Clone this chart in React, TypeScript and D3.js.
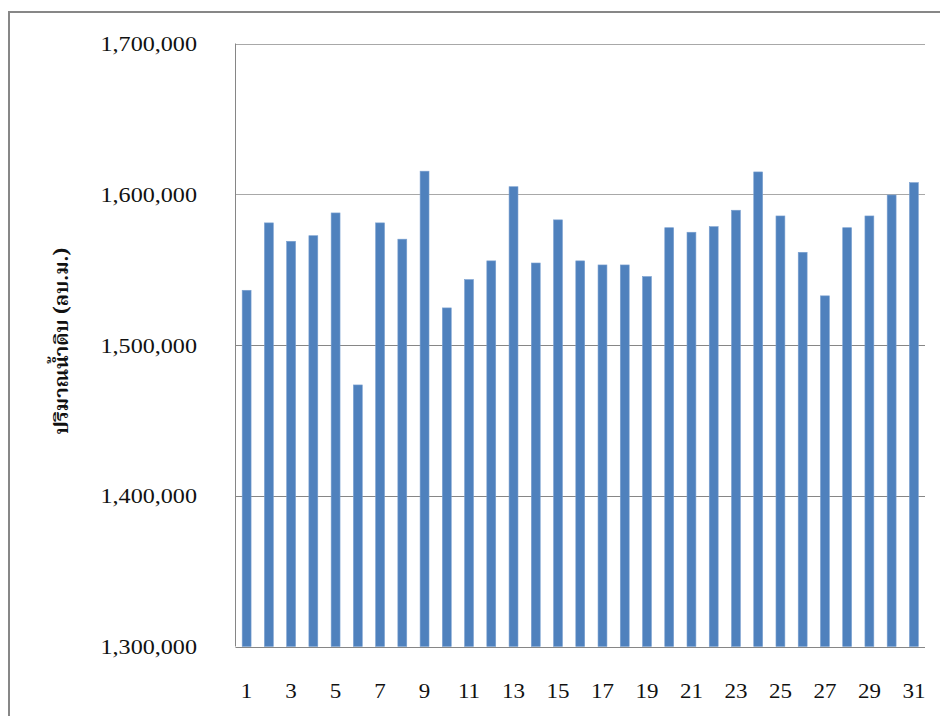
import React from "react";
import * as d3 from "d3";

// Daily raw-water volume (m³) for days 1–31
const days: number[] = d3.range(1, 32);
const volumes: number[] = [
  1536300, 1581000, 1568800, 1572500, 1587600, 1473500, 1581000, 1570200,
  1615300, 1524600, 1543400, 1555800, 1605000, 1554400, 1583000, 1555800,
  1553100, 1553100, 1545400, 1577800, 1574800, 1578500, 1589400, 1614800,
  1585600, 1561500, 1532600, 1577800, 1585600, 1599500, 1607700,
];
const yTicks: number[] = [1300000, 1400000, 1500000, 1600000, 1700000];
const xTickDays: number[] = days.filter((d) => d % 2 === 1);
const yTitle = "ปริมาณน้ำดิบ (ลบ.ม.)";

const W = 940;
const H = 716;
const plot = { left: 235.5, right: 925, top: 43.5, bottom: 646.5 };

export default function App() {
  const x = d3
    .scaleBand<number>()
    .domain(days)
    .range([plot.left, plot.right])
    .paddingInner(0.6)
    .paddingOuter(0.3);
  const y = d3
    .scaleLinear()
    .domain([1300000, 1700000])
    .range([plot.bottom, plot.top]);
  const fmt = d3.format(",");
  const stretch = 1.15;

  return (
    <svg
      width={W}
      height={H}
      style={{ position: "absolute", left: 0, top: 0, background: "#fff" }}
    >
      {/* outer chart frame */}
      <rect
        x={9}
        y={12}
        width={W + 20}
        height={H + 20}
        fill="none"
        stroke="#878787"
        strokeWidth={2}
      />

      {/* horizontal gridlines */}
      {yTicks.map((t) => (
        <line
          key={t}
          x1={plot.left}
          x2={plot.right}
          y1={Math.round(y(t)) + 0.5}
          y2={Math.round(y(t)) + 0.5}
          stroke={t === 1700000 || t === 1600000 ? "#a8a8a8" : "#868686"}
          strokeWidth={1.2}
        />
      ))}

      {/* left axis line */}
      <line
        x1={plot.left}
        x2={plot.left}
        y1={plot.top}
        y2={plot.bottom}
        stroke="#868686"
        strokeWidth={1}
      />

      {/* bars */}
      {volumes.map((v, i) => (
        <rect
          key={i}
          x={x(days[i])}
          y={y(v)}
          width={x.bandwidth()}
          height={plot.bottom - y(v)}
          fill="#4f81bd"
          stroke="#7aa0d0"
          strokeWidth={0.6}
        />
      ))}

      {/* y tick labels */}
      {yTicks.map((t) => (
        <text
          key={t}
          transform={`translate(197, ${y(t) + 7.5}) scale(${stretch},1)`}
          textAnchor="end"
          fontFamily="'Liberation Serif', 'Times New Roman', serif"
          fontSize={21}
          fill="#111"
        >
          {fmt(t)}
        </text>
      ))}

      {/* x tick labels */}
      {xTickDays.map((d) => (
        <text
          key={d}
          transform={`translate(${(x(d) as number) + x.bandwidth() / 2}, 698) scale(${stretch},1)`}
          textAnchor="middle"
          fontFamily="'Liberation Serif', 'Times New Roman', serif"
          fontSize={20}
          fill="#111"
        >
          {d}
        </text>
      ))}

      {/* y axis title */}
      <text
        transform={`translate(68, 341) rotate(-90)`}
        textAnchor="middle"
        fontFamily="'Noto Serif Thai', Norasi, Garuda, Loma, Tahoma, 'Noto Sans Thai', 'Noto Sans', 'DejaVu Sans', sans-serif"
        fontWeight="bold"
        fontSize={20}
        fill="#111"
      >
        {yTitle}
      </text>
    </svg>
  );
}
